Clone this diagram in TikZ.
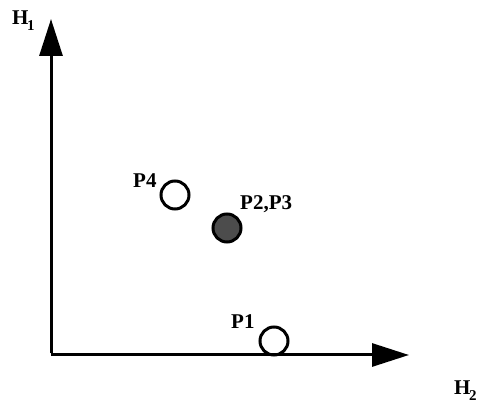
\documentclass[tikz,border=0pt]{standalone}
\usepackage{fontspec}
\setmainfont{Liberation Serif}
\usetikzlibrary{arrows.meta}
\begin{document}
\begin{tikzpicture}[x=1pt,y=-1pt,
  axis/.style={line width=3pt,-{Triangle[length=37pt,width=23pt]}},
  pt/.style={circle,draw=black,line width=3pt,minimum size=28pt,inner sep=0pt},
  ptfill/.style={pt,fill=black!70},
  lbl/.style={anchor=base west,inner sep=0pt,font=\fontsize{21}{21}\selectfont\bfseries}]
\useasboundingbox (0,0) rectangle (480,411);
\coordinate (O) at (51,355);
\coordinate (ytip) at (51,19);
\coordinate (xtip) at (409,355);
\draw[axis] ([yshift=1.5pt]O) -- (ytip);
\draw[axis] (O) -- (xtip);
\node[pt] (p4) at (175,195) {};
\node[ptfill] (p23) at (227,228) {};
\node[pt] (p1) at (274,341) {};
\node[lbl] (lp4) at (133,188) {P4};
\node[lbl] (lp23) at (240,210) {P2,P3};
\node[lbl] (lp1) at (231,329) {P1};
\node[lbl] (h1) at (12,25) {H\kern-1.5pt\raisebox{-6pt}{\fontsize{15}{15}\selectfont 1}};
\node[lbl] (h2) at (454,395) {H\kern-1.5pt\raisebox{-6pt}{\fontsize{15}{15}\selectfont 2}};
\end{tikzpicture}
\end{document}
